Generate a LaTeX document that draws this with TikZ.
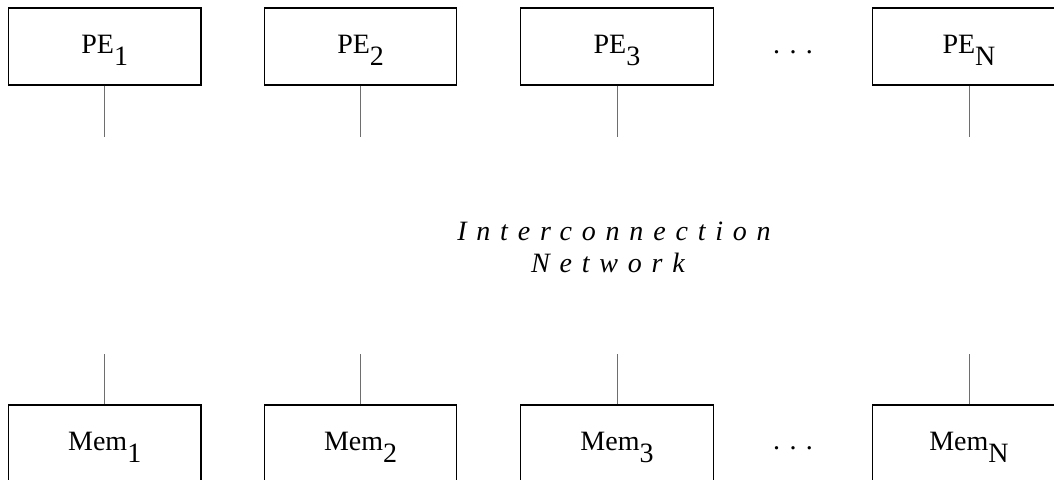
\documentclass[tikz,border=0pt]{standalone}
\usepackage{fontspec}
\setmainfont{Liberation Serif}
\newfontfamily\netfont[LetterSpace=35]{Liberation Serif}
\usepackage{xcolor}
\usepackage{tikz}
\definecolor{frame}{HTML}{000000}
\definecolor{stub}{HTML}{6E6E6E}
\tikzset{
  unit/.style={draw=frame, line width=0.6pt, minimum width=96.25pt, minimum height=38.5pt,
    inner sep=0pt, text height=9.5pt, text depth=3pt, font=\fontsize{14pt}{16pt}\selectfont},
  link/.style={draw=stub, line width=0.5pt},
  gap/.style={inner sep=0pt, anchor=base, font=\fontsize{14pt}{16pt}\selectfont},
  netlab/.style={inner sep=0pt, anchor=base, font=\fontsize{14pt}{16pt}\selectfont\netfont\itshape}
}
\newcommand{\low}[1]{\raisebox{-6pt}{#1}}

\begin{document}
\begin{tikzpicture}[x=0.5pt,y=-0.5pt]
  \useasboundingbox (0,0) rectangle (1054,479);
  \clip (0,0) rectangle (1054,479);

  % processing elements
  \node[unit] (pe1) at (104.7,46.5) {PE\low{1}};
  \node[unit] (pe2) at (360.6,46.5) {PE\low{2}};
  \node[unit] (pe3) at (617,46.5) {PE\low{3}};
  \node[unit] (peN) at (969,46.5) {PE\low{N}};
  \node[gap] (pedots) at (793,53) {. . .};

  % memories
  \node[unit] (mem1) at (104.7,443.5) {Mem\low{1}};
  \node[unit] (mem2) at (360.6,443.5) {Mem\low{2}};
  \node[unit] (mem3) at (617,443.5) {Mem\low{3}};
  \node[unit] (memN) at (969,443.5) {Mem\low{N}};
  \node[gap] (memdots) at (793,449) {. . .};

  % free ends towards the network
  \coordinate (pe1b) at (104.7,137);
  \coordinate (pe2b) at (360.6,137);
  \coordinate (pe3b) at (617,137);
  \coordinate (peNb) at (969,137);
  \coordinate (mem1t) at (104.7,354);
  \coordinate (mem2t) at (360.6,354);
  \coordinate (mem3t) at (617,354);
  \coordinate (memNt) at (969,354);

  \draw[link] (pe1.south) -- (pe1b);
  \draw[link] (pe2.south) -- (pe2b);
  \draw[link] (pe3.south) -- (pe3b);
  \draw[link] (peN.south) -- (peNb);
  \draw[link] (mem1.north) -- (mem1t);
  \draw[link] (mem2.north) -- (mem2t);
  \draw[link] (mem3.north) -- (mem3t);
  \draw[link] (memN.north) -- (memNt);

  \node[netlab] (ic) at (614,240) {Interconnection};
  \node[netlab] (nw) at (608,272) {Network};
\end{tikzpicture}
\end{document}
